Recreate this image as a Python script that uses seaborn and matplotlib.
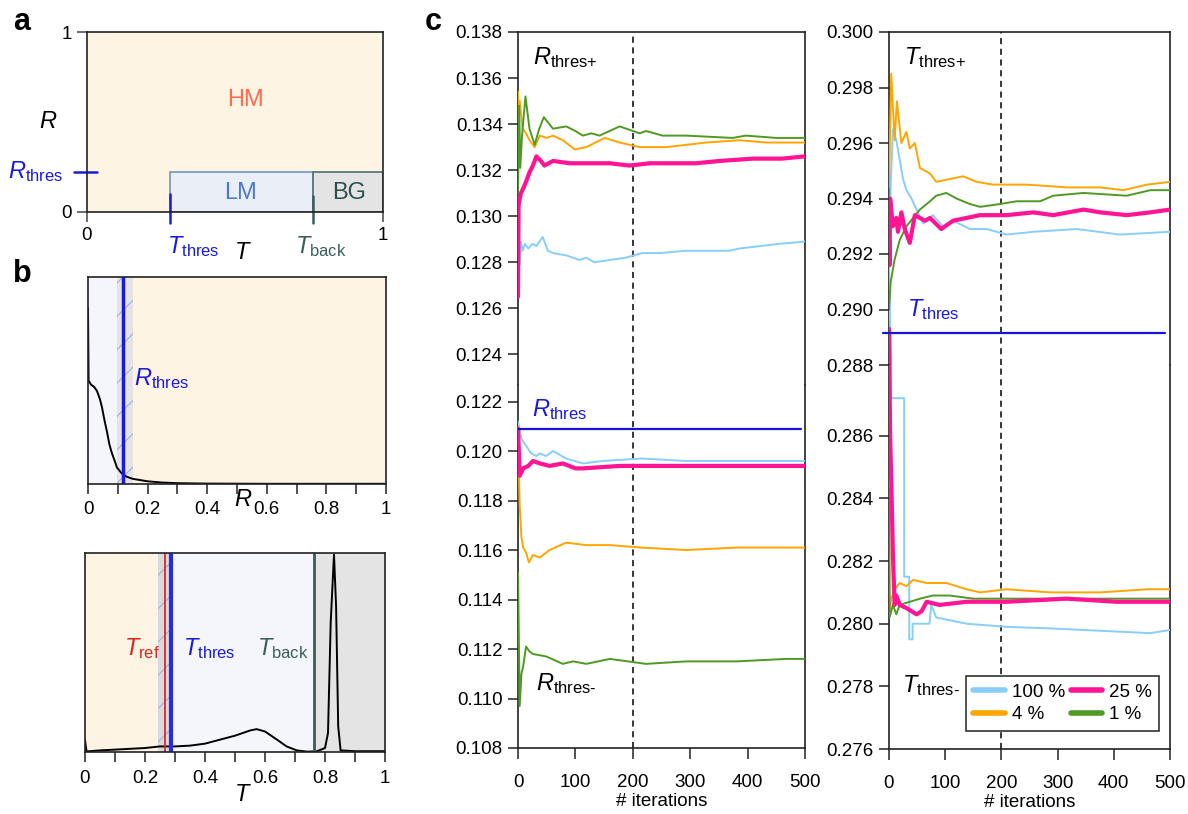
import matplotlib
matplotlib.use("Agg")
import matplotlib.pyplot as plt
from matplotlib.patches import Rectangle
from matplotlib.lines import Line2D
import seaborn as sns

# ---- data --------------------------------------------------------------
levels = ["100 %", "25 %", "4 %", "1 %"]
colors = {"100 %": "#87cefa", "25 %": "#ff1493", "4 %": "#ffa500", "1 %": "#4f9a22"}
widths = {"100 %": 1.4, "25 %": 3.0, "4 %": 1.4, "1 %": 1.4}

# panel c, R thresholds (upper: R_thres+, lower: R_thres-)
rp_100_x = [0, 3, 5, 8, 12, 18, 25, 32, 43, 52, 61, 84, 107, 119, 133, 160, 188, 216, 247, 293, 368, 386, 455, 500]
rp_100_y = [0.1287, 0.1279, 0.1289, 0.1285, 0.1288, 0.1286, 0.1288, 0.1287, 0.1291, 0.1285, 0.1284, 0.1283,
            0.1281, 0.1282, 0.1280, 0.1281, 0.1282, 0.1284, 0.1284, 0.1285, 0.1285, 0.1286, 0.1288, 0.1289]
rp_25_x = [0, 1, 5, 9, 14, 20, 26, 32, 40, 46, 61, 90, 119, 160, 194, 230, 264, 310, 351, 409, 460, 500]
rp_25_y = [0.1265, 0.1305, 0.1310, 0.1312, 0.1315, 0.1319, 0.1322, 0.1326, 0.1324, 0.1322, 0.1324, 0.1323,
           0.1323, 0.1323, 0.1322, 0.1323, 0.1323, 0.1323, 0.1324, 0.1325, 0.1325, 0.1326]
rp_4_x = [0, 1, 3, 8, 14, 20, 29, 38, 50, 61, 78, 99, 119, 151, 177, 212, 258, 328, 386, 432, 500]
rp_4_y = [0.1354, 0.1340, 0.1350, 0.1338, 0.1336, 0.1333, 0.1330, 0.1335, 0.1334, 0.1335, 0.1333, 0.1329,
          0.1330, 0.1334, 0.1332, 0.1330, 0.1330, 0.1332, 0.1333, 0.1332, 0.1332]
rp_1_x = [0, 2, 4, 7, 13, 20, 29, 37, 45, 61, 84, 100, 113, 128, 142, 177, 212, 223, 252, 293, 374, 397, 450, 500]
rp_1_y = [0.1310, 0.1348, 0.1321, 0.1335, 0.1352, 0.1338, 0.1331, 0.1338, 0.1343, 0.1338, 0.1339, 0.1337,
          0.1335, 0.1336, 0.1335, 0.1339, 0.1336, 0.1337, 0.1335, 0.1335, 0.1334, 0.1335, 0.1334, 0.1334]

rm_100_x = [0, 6, 23, 32, 38, 49, 61, 84, 113, 148, 215, 293, 400, 500]
rm_100_y = [0.1212, 0.1205, 0.1199, 0.1198, 0.1199, 0.1198, 0.1200, 0.1197, 0.1195, 0.1196, 0.1197, 0.1196,
            0.1196, 0.1196]
rm_25_x = [0, 3, 9, 18, 26, 38, 55, 78, 100, 113, 177, 293, 500]
rm_25_y = [0.1209, 0.1190, 0.1193, 0.1194, 0.1196, 0.1195, 0.1194, 0.1195, 0.1193, 0.1193, 0.1194, 0.1194, 0.1194]
rm_4_x = [0, 1, 3, 6, 9, 14, 19, 26, 38, 55, 84, 119, 160, 215, 293, 380, 500]
rm_4_y = [0.1210, 0.1195, 0.1178, 0.1165, 0.1161, 0.1159, 0.1155, 0.1158, 0.1157, 0.1160, 0.1163, 0.1162,
          0.1162, 0.1161, 0.1160, 0.1161, 0.1161]
rm_1_x = [0, 3, 6, 9, 14, 20, 26, 49, 78, 96, 119, 160, 223, 293, 380, 467, 500]
rm_1_y = [0.1151, 0.1097, 0.1110, 0.1113, 0.1121, 0.1119, 0.1118, 0.1117, 0.1114, 0.1115, 0.1114, 0.1116,
          0.1114, 0.1115, 0.1115, 0.1116, 0.1116]

# panel c, T thresholds
tp_100_x = [0, 3, 7, 13, 25, 31, 40, 49, 61, 78, 96, 114, 144, 174, 209, 257, 334, 411, 500]
tp_100_y = [0.2915, 0.2945, 0.2965, 0.2961, 0.2947, 0.2943, 0.2940, 0.2936, 0.2931, 0.2934, 0.2930, 0.2932,
            0.2929, 0.2929, 0.2927, 0.2928, 0.2929, 0.2927, 0.2928]
tp_25_x = [0, 1, 2, 7, 13, 16, 22, 28, 37, 46, 64, 73, 93, 114, 138, 162, 209, 257, 292, 346, 376, 423, 465, 500]
tp_25_y = [0.2925, 0.2916, 0.2940, 0.2930, 0.2933, 0.2928, 0.2935, 0.2929, 0.2924, 0.2934, 0.2932, 0.2933,
           0.2929, 0.2932, 0.2933, 0.2934, 0.2934, 0.2935, 0.2934, 0.2936, 0.2935, 0.2934, 0.2935, 0.2936]
tp_4_x = [0, 4, 10, 14, 22, 31, 37, 46, 55, 73, 84, 108, 132, 156, 185, 245, 316, 376, 417, 459, 500]
tp_4_y = [0.2944, 0.2985, 0.2961, 0.2975, 0.2960, 0.2964, 0.2958, 0.2960, 0.2951, 0.2949, 0.2946, 0.2947,
          0.2948, 0.2946, 0.2945, 0.2945, 0.2944, 0.2944, 0.2943, 0.2945, 0.2946]
tp_1_x = [0, 3, 10, 19, 31, 43, 55, 73, 84, 102, 120, 144, 162, 197, 227, 269, 292, 346, 423, 465, 500]
tp_1_y = [0.2900, 0.2910, 0.2918, 0.2925, 0.2930, 0.2933, 0.2936, 0.2939, 0.2941, 0.2942, 0.2940, 0.2938,
          0.2937, 0.2938, 0.2939, 0.2939, 0.2941, 0.2942, 0.2941, 0.2943, 0.2943]

tm_100_x = [0, 4, 27, 27, 36, 36, 42, 42, 72, 75, 84, 138, 174, 209, 287, 346, 465, 500]
tm_100_y = [0.2915, 0.2872, 0.2872, 0.2815, 0.2815, 0.2795, 0.2795, 0.2800, 0.2800, 0.2806, 0.2802, 0.2800,
            0.27995, 0.2799, 0.27985, 0.2798, 0.2797, 0.2798]
tm_25_x = [0, 2, 5, 7, 10, 13, 19, 31, 49, 58, 67, 90, 138, 209, 316, 405, 500]
tm_25_y = [0.2893, 0.2860, 0.2838, 0.2822, 0.2806, 0.2809, 0.2806, 0.2805, 0.2803, 0.2804, 0.2807, 0.2806,
           0.2807, 0.2807, 0.2808, 0.2807, 0.2807]
tm_4_x = [0, 1, 4, 10, 19, 31, 43, 67, 102, 138, 162, 209, 287, 376, 459, 500]
tm_4_y = [0.2858, 0.2804, 0.2808, 0.2811, 0.2813, 0.2812, 0.2814, 0.2813, 0.2813, 0.2811, 0.2810, 0.2811,
          0.2810, 0.2810, 0.2811, 0.2811]
tm_1_x = [0, 1, 7, 13, 19, 37, 55, 78, 108, 150, 209, 287, 376, 500]
tm_1_y = [0.2843, 0.2802, 0.2806, 0.2803, 0.2806, 0.2807, 0.2808, 0.2809, 0.2809, 0.2808, 0.2808, 0.2808,
          0.2808, 0.2808]

R_THRES = 0.12088
T_THRES = 0.28915
ITER_MARK = 200

# panel b, densities (arbitrary units)
r_grid = [0, 0.002, 0.01, 0.02, 0.03, 0.04, 0.047, 0.055, 0.064, 0.072, 0.08, 0.09, 0.097, 0.114, 0.13,
          0.15, 0.2, 0.25, 0.3, 0.4, 0.6, 1.0]
r_dens = [0.85, 0.50, 0.48, 0.47, 0.45, 0.41, 0.37, 0.31, 0.25, 0.19, 0.15, 0.11, 0.08, 0.05, 0.035,
          0.025, 0.013, 0.007, 0.004, 0.002, 0.001, 0.001]
t_grid = [0, 0.005, 0.05, 0.1, 0.2, 0.25, 0.3, 0.35, 0.4, 0.45, 0.5, 0.55, 0.572, 0.6, 0.64, 0.672, 0.706,
          0.74, 0.772, 0.8, 0.81, 0.819, 0.83, 0.837, 0.844, 0.852, 0.9, 1.0]
t_dens = [0.06, 0.003, 0.008, 0.012, 0.02, 0.028, 0.028, 0.032, 0.042, 0.062, 0.082, 0.108, 0.115, 0.103,
          0.062, 0.028, 0.008, 0.002, 0.003, 0.02, 0.095, 0.65, 0.993, 0.73, 0.13, 0.008, 0.004, 0.004]

# region boundaries
R_BAND = (0.097, 0.151)
R_LINE_B = 0.116
T_BAND = (0.244, 0.287)
T_REF_B = 0.268
T_THRES_B = 0.288
T_BACK_B = 0.762
# schematic (panel a)
A_R_THRES = 0.225
A_T_THRES = 0.28
A_T_BACK = 0.764

BEIGE = "#fdf4e4"
LIGHT = "#f4f6fb"
GRAY = "#e4e4e4"
BLUE = "#1a1adf"
SLATE = "#3b5c5c"
RED = "#e02424"

# ---- style ---------------------------------------------------------------
sns.set_theme(style="ticks", rc={"text.color": "black", "axes.labelcolor": "black",
                                 "xtick.color": "black", "ytick.color": "black",
                                 "axes.edgecolor": "#222222"})
plt.rcParams["font.family"] = ["Liberation Sans", "DejaVu Sans"]
plt.rcParams["mathtext.fontset"] = "custom"
plt.rcParams["mathtext.rm"] = "Liberation Sans"
plt.rcParams["mathtext.it"] = "Liberation Sans:italic"
plt.rcParams["hatch.linewidth"] = 0.8
FS = 13.5

fig = plt.figure(figsize=(11.88, 8.14), dpi=100)


def ax_px(x0, y0, x1, y1):
    W, H = 1188, 814
    return fig.add_axes([x0 / W, 1 - y1 / H, (x1 - x0) / W, (y1 - y0) / H])


def style_ticks(ax, pad=4):
    ax.tick_params(direction="out", length=7, width=1.2, color="#333333", labelsize=FS, pad=pad)
    for s in ax.spines.values():
        s.set_color("#222222")
        s.set_linewidth(1.2)


# ---- panel a -------------------------------------------------------------
ax_a = ax_px(87, 32, 383, 212)
ax_a.set_facecolor(BEIGE)
ax_a.set_xlim(0, 1)
ax_a.set_ylim(0, 1)
ax_a.add_patch(Rectangle((A_T_THRES, 0), A_T_BACK - A_T_THRES, A_R_THRES,
                         facecolor="#e9eef7", edgecolor="#7d9cc4", lw=1.3))
ax_a.add_patch(Rectangle((A_T_BACK, 0), 1 - A_T_BACK, A_R_THRES,
                         facecolor=GRAY, edgecolor="#587878", lw=1.3))
ax_a.set_xticks([0, 1])
ax_a.set_yticks([0, 1])
ax_a.set_xticklabels(["0", "1"])
ax_a.set_yticklabels(["0", "1"])
style_ticks(ax_a)
ax_a.tick_params(color="#555555")
ax_a.plot([-0.045, 0.033], [A_R_THRES, A_R_THRES], color=BLUE, lw=1.8, clip_on=False)
ax_a.plot([A_T_THRES, A_T_THRES], [-0.06, 0.1], color=BLUE, lw=1.8, clip_on=False)
ax_a.plot([A_T_BACK, A_T_BACK], [-0.06, 0.09], color=SLATE, lw=1.8, clip_on=False)
ax_a.text(0.535, 0.62, "HM", color="#ff6a50", fontsize=17, ha="center", va="center")
ax_a.text(0.52, 0.105, "LM", color="#4a78d6", fontsize=17, ha="center", va="center")
ax_a.text(0.885, 0.105, "BG", color="#2e4f4f", fontsize=17, ha="center", va="center")
ax_a.text(-0.13, 0.5, "$R$", fontsize=17, ha="center", va="center", clip_on=False)
ax_a.text(-0.08, A_R_THRES, r"$R_{\mathrm{thres}}$", color=BLUE, fontsize=17, ha="right", va="center")
ax_a.text(A_T_THRES - 0.01, -0.19, r"$T_{\mathrm{thres}}$", color=BLUE, fontsize=17, ha="left", va="center")
ax_a.text(0.527, -0.23, "$T$", fontsize=17, ha="center", va="center")
ax_a.text(A_T_BACK - 0.06, -0.19, r"$T_{\mathrm{back}}$", color=SLATE, fontsize=17, ha="left", va="center")

# ---- panel b (top: R) ----------------------------------------------------
ax_br = ax_px(88, 277, 386, 484)
ax_br.set_xlim(0, 1)
ax_br.set_ylim(0, 1)
ax_br.axvspan(0, R_BAND[0], facecolor=LIGHT, lw=0)
ax_br.axvspan(R_BAND[0], R_BAND[1], facecolor=GRAY, edgecolor="#9db4d6", hatch="/", lw=0)
ax_br.axvspan(R_BAND[1], 1, facecolor=BEIGE, lw=0)
sns.lineplot(x=r_grid, y=r_dens, ax=ax_br, color="black", lw=1.4, estimator=None, sort=False)
ax_br.axvline(R_LINE_B, color=BLUE, lw=2.5)
ax_br.text(R_LINE_B + 0.04, 0.51, r"$R_{\mathrm{thres}}$", color=BLUE, fontsize=17, va="center")
ax_br.set_yticks([])
ax_br.set_xticks([0, 0.2, 0.4, 0.6, 0.8, 1.0])
ax_br.set_xticks([0.1, 0.3, 0.5, 0.7, 0.9], minor=True)
ax_br.set_xticklabels(["0", "0.2", "0.4", "0.6", "0.8", "1"])
style_ticks(ax_br, pad=5)
ax_br.tick_params(which="minor", direction="out", length=7, width=1.2, color="#333333")
ax_br.text(0.52, -0.075, "$R$", fontsize=17, ha="center", va="center", transform=ax_br.transAxes)

# ---- panel b (bottom: T) -------------------------------------------------
ax_bt = ax_px(85, 553, 385, 752)
ax_bt.set_xlim(0, 1)
ax_bt.set_ylim(0, 1)
ax_bt.axvspan(0, T_BAND[0], facecolor=BEIGE, lw=0)
ax_bt.axvspan(T_BAND[0], T_BAND[1], facecolor="#d6d9dd", edgecolor="#9db4d6", hatch="/", lw=0)
ax_bt.axvspan(T_BAND[1], T_BACK_B, facecolor=LIGHT, lw=0)
ax_bt.axvspan(T_BACK_B, 1, facecolor=GRAY, lw=0)
sns.lineplot(x=t_grid, y=t_dens, ax=ax_bt, color="black", lw=1.4, estimator=None, sort=False)
ax_bt.axvline(T_REF_B, color=RED, lw=1.3)
ax_bt.axvline(T_THRES_B, color="#2a2ae6", lw=3)
ax_bt.axvline(T_BACK_B, color=SLATE, lw=2)
ax_bt.text(0.19, 0.52, r"$T_{\mathrm{ref}}$", color=RED, fontsize=17, ha="center", va="center")
ax_bt.text(0.415, 0.52, r"$T_{\mathrm{thres}}$", color=BLUE, fontsize=17, ha="center", va="center")
ax_bt.text(0.66, 0.52, r"$T_{\mathrm{back}}$", color=SLATE, fontsize=17, ha="center", va="center")
ax_bt.set_yticks([])
ax_bt.set_xticks([0, 0.2, 0.4, 0.6, 0.8, 1.0])
ax_bt.set_xticks([0.1, 0.3, 0.5, 0.7, 0.9], minor=True)
ax_bt.set_xticklabels(["0", "0.2", "0.4", "0.6", "0.8", "1"])
style_ticks(ax_bt, pad=6)
ax_bt.tick_params(which="minor", direction="out", length=7, width=1.2, color="#333333")
ax_bt.text(0.527, -0.215, "$T$", fontsize=17, ha="center", va="center", transform=ax_bt.transAxes)

# ---- panel c -------------------------------------------------------------
ax_rt = ax_px(518, 32, 805, 385)
ax_rb = ax_px(518, 385, 805, 748)
ax_tt = ax_px(889, 32, 1170, 365)
ax_tb = ax_px(889, 365, 1170, 749)

ax_rt.set_ylim(0.12267, 0.138)
ax_rb.set_ylim(0.108, 0.12267)
ax_tt.set_ylim(0.28826, 0.300)
ax_tb.set_ylim(0.276, 0.28826)

r_series = {"100 %": [(rp_100_x, rp_100_y), (rm_100_x, rm_100_y)],
            "25 %": [(rp_25_x, rp_25_y), (rm_25_x, rm_25_y)],
            "4 %": [(rp_4_x, rp_4_y), (rm_4_x, rm_4_y)],
            "1 %": [(rp_1_x, rp_1_y), (rm_1_x, rm_1_y)]}
t_series = {"100 %": [(tp_100_x, tp_100_y), (tm_100_x, tm_100_y)],
            "25 %": [(tp_25_x, tp_25_y), (tm_25_x, tm_25_y)],
            "4 %": [(tp_4_x, tp_4_y), (tm_4_x, tm_4_y)],
            "1 %": [(tp_1_x, tp_1_y), (tm_1_x, tm_1_y)]}

draw_order = ["100 %", "4 %", "1 %", "25 %"]
for pair, series in [((ax_rt, ax_rb), r_series), ((ax_tt, ax_tb), t_series)]:
    for ax in pair:
        ax.set_xlim(0, 500)
        ax.axvline(ITER_MARK, color="black", lw=1.1, ls=(0, (4, 3)), zorder=1)
        for lev in draw_order:
            for xs, ys in series[lev]:
                sns.lineplot(x=xs, y=ys, ax=ax, color=colors[lev], lw=widths[lev],
                             estimator=None, sort=False, zorder=3)
        style_ticks(ax)
    top, bot = pair
    top.spines["bottom"].set_visible(False)
    bot.spines["top"].set_visible(False)
    top.tick_params(axis="x", bottom=False, labelbottom=False)
    bot.set_xticks([0, 100, 200, 300, 400, 500])
    bot.tick_params(axis="x", length=8, pad=10.5)
    bot.set_xlabel("# iterations", fontsize=FS, labelpad=2)

ax_rt.set_yticks([0.124, 0.126, 0.128, 0.130, 0.132, 0.134, 0.136, 0.138])
ax_rb.set_yticks([0.108, 0.110, 0.112, 0.114, 0.116, 0.118, 0.120, 0.122])
ax_tt.set_yticks([0.288, 0.290, 0.292, 0.294, 0.296, 0.298, 0.300])
ax_tb.set_yticks([0.276, 0.278, 0.280, 0.282, 0.284, 0.286])
for ax in (ax_rt, ax_rb, ax_tt, ax_tb):
    ax.yaxis.set_major_formatter(plt.FormatStrFormatter("%.3f"))

ax_rb.axhline(R_THRES, xmin=0, xmax=0.986, color="#1414d8", lw=1.6, zorder=4)
ax_tt.axhline(T_THRES, xmin=-0.02, xmax=0.983, color="#1414d8", lw=1.6, zorder=4, clip_on=False)

ax_rt.text(26, 0.1369, r"$R_{\text{thres+}}$", fontsize=17, va="center")
ax_rb.text(24, 0.12168, r"$R_{\mathrm{thres}}$", color=BLUE, fontsize=17, va="center")
ax_rb.text(31, 0.1106, r"$R_{\text{thres-}}$", fontsize=17, va="center")
ax_tt.text(26, 0.29908, r"$T_{\text{thres+}}$", fontsize=17, va="center")
ax_tt.text(32, 0.2900, r"$T_{\mathrm{thres}}$", color=BLUE, fontsize=17, va="center")
ax_tb.text(24, 0.27804, r"$T_{\text{thres-}}$", fontsize=17, va="center", zorder=6)

handles = [Line2D([], [], color=colors[lev], lw=4) for lev in ["100 %", "4 %", "25 %", "1 %"]]
leg = ax_tb.legend(handles, ["100 %", "4 %", "25 %", "1 %"], ncol=2, loc="lower right",
                   bbox_to_anchor=(0.962, 0.047), borderaxespad=0, fontsize=FS, frameon=True,
                   fancybox=False, framealpha=1, edgecolor="#333333", handlelength=1.7,
                   columnspacing=0.3, handletextpad=0.35, borderpad=0.4, labelspacing=0.3)
leg.get_frame().set_linewidth(1.2)

# panel letters
fig.text(0.0185, 0.973, "a", fontsize=22, fontweight="bold", ha="center", va="center")
fig.text(0.0185, 0.664, "b", fontsize=22, fontweight="bold", ha="center", va="center")
fig.text(0.3645, 0.973, "c", fontsize=22, fontweight="bold", ha="center", va="center")

fig.savefig("out.png", dpi=100)
